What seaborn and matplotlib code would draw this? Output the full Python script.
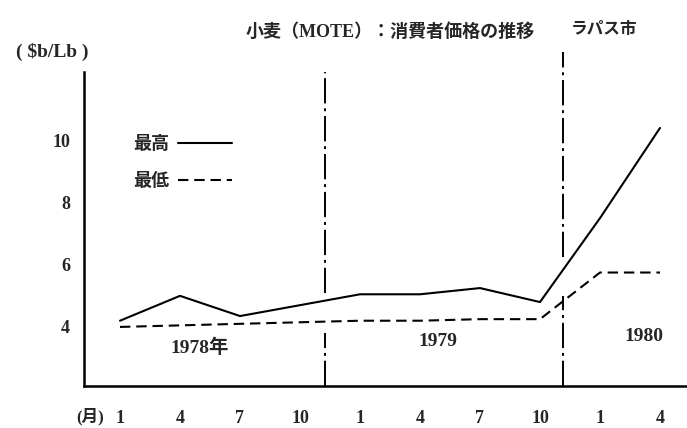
"""Wheat (MOTE) consumer price in La Paz, 1978-1980: highest and lowest price."""

import seaborn as sns
import matplotlib.pyplot as plt

# months counted from Jan 1978 (0) to Apr 1980 (27)
months = [0, 3, 6, 9, 12, 15, 18, 21, 24, 27]
price_max = [4.2, 5.0, 4.35, 4.7, 5.05, 5.05, 5.25, 4.8, 7.5, 10.4]
price_min = [4.0, 4.05, 4.1, 4.15, 4.2, 4.2, 4.25, 4.25, 5.75, 5.75]
month_labels = ["1", "4", "7", "10", "1", "4", "7", "10", "1", "4"]
y_ticks = [4, 6, 8, 10]

year_labels = ["1978年", "1979", "1980"]
year_x = [4.0, 15.9, 26.2]
year_y = [3.32, 3.52, 3.68]

# year dividers (dash-dot), broken where they cross the price lines
divider_x = [10.25, 22.15]
divider_top = [12.2, 12.84]
divider_upper_end = [5.1, 6.26]
divider_lower_start = [3.8, 5.0]

sns.set_style("white")
plt.rcParams["font.family"] = ["Liberation Serif", "Noto Sans CJK JP"]

W, H = 687, 428
fig = plt.figure(figsize=(W / 100, H / 100), dpi=100)
ax = fig.add_axes([84 / W, 1 - 386 / H, 1 - 84 / W, (386 - 72) / H])

sns.lineplot(x=months, y=price_max, ax=ax, color="black", lw=1.5,
             label="最高")
sns.lineplot(x=months, y=price_min, ax=ax, color="black", lw=1.5,
             linestyle=(0, (5, 2.8)), label="最低")

ymin, ymax = 2.1, 12.2
dashdot = (0, (13, 2.5, 1.5, 2.5))
for x, top, hi, lo in zip(divider_x, divider_top, divider_upper_end,
                          divider_lower_start):
    ax.plot([x, x], [hi, top], color="black", lw=1.4, linestyle=dashdot,
            clip_on=False)
    ax.plot([x, x], [ymin, lo], color="black", lw=1.4, linestyle=dashdot,
            clip_on=False)

for lab, x, y in zip(year_labels, year_x, year_y):
    ax.text(x, y, lab, ha="center", va="center", fontsize=14,
            fontweight="bold")

ax.set_xlim(-1.8, 28.35)
ax.set_ylim(ymin, ymax)
ax.set_xticks(months)
ax.set_xticklabels(month_labels)
ax.set_yticks(y_ticks)
ax.set_xlabel("")
ax.set_ylabel("")
for lab in ax.get_xticklabels() + ax.get_yticklabels():
    lab.set_fontweight("bold")
    lab.set_fontsize(13)
ax.tick_params(axis="x", direction="in", length=5, width=1.2, pad=17)
ax.tick_params(axis="y", direction="in", length=6, width=1.2, pad=10)

sns.despine(ax=ax)
for side in ["left", "bottom"]:
    ax.spines[side].set_linewidth(1.8)
    ax.spines[side].set_color("black")

handles, labels = ax.get_legend_handles_labels()
ax.legend(handles, labels, markerfirst=False, frameon=False,
          loc="upper left", bbox_to_anchor=(133 / W, 1 - 134 / H),
          bbox_transform=fig.transFigure, borderpad=0, borderaxespad=0,
          handlelength=3.0, handletextpad=0.5, labelspacing=1.0,
          prop={"family": ["Noto Sans CJK JP"], "size": 13, "weight": "bold"})

fig.text(390 / W, 1 - 32 / H, "小麦（MOTE）：消費者価格の推移",
         ha="center", va="center", fontsize=13, fontweight="bold")
fig.text(604 / W, 1 - 30 / H, "ラパス市", ha="center", va="center",
         fontsize=12, fontweight="bold")
fig.text(52 / W, 1 - 52 / H, "( \\$b/Lb )", ha="center", va="center",
         fontsize=14, fontweight="bold")
fig.text(90 / W, 1 - 417 / H, "(月)", ha="center", va="center",
         fontsize=12, fontweight="bold")

fig.savefig("out.png", dpi=100)
